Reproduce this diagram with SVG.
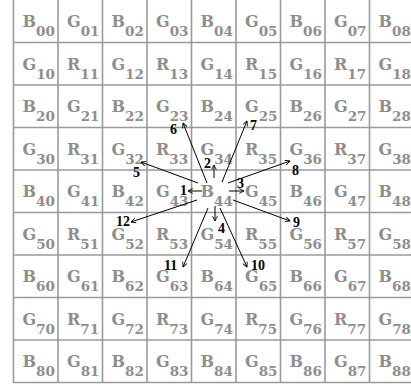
<svg xmlns="http://www.w3.org/2000/svg" width="411" height="388" viewBox="0 0 411 388">
<style>
.grid line{stroke:#9a9a9a;stroke-width:1.6}
.c{font-family:"DejaVu Serif","Liberation Serif",serif;font-weight:bold;font-size:16px;fill:#8e8e8e}
.s{font-size:13.5px}
.n{font-family:"Liberation Serif","DejaVu Serif",serif;font-weight:bold;font-size:14px;fill:#000}
.a line{stroke:#000;stroke-width:1;marker-end:url(#ah)}
</style>
<defs>
<marker id="ah" viewBox="0 0 10 10" refX="9" refY="5" markerWidth="6" markerHeight="6" markerUnits="userSpaceOnUse" orient="auto">
<path d="M1,1 L9,5 L1,9" fill="none" stroke="#000" stroke-width="1.5"/>
</marker>
</defs>
<rect width="411" height="388" fill="#fff"/>
<g class="grid">
<line x1="13.5" y1="0" x2="13.5" y2="383"/>
<line x1="58" y1="0" x2="58" y2="383"/>
<line x1="102.5" y1="0" x2="102.5" y2="383"/>
<line x1="147" y1="0" x2="147" y2="383"/>
<line x1="191.5" y1="0" x2="191.5" y2="383"/>
<line x1="236" y1="0" x2="236" y2="383"/>
<line x1="280.5" y1="0" x2="280.5" y2="383"/>
<line x1="325" y1="0" x2="325" y2="383"/>
<line x1="369.5" y1="0" x2="369.5" y2="383"/>
<line x1="13.5" y1="42.5" x2="411" y2="42.5"/>
<line x1="13.5" y1="85" x2="411" y2="85"/>
<line x1="13.5" y1="127.5" x2="411" y2="127.5"/>
<line x1="13.5" y1="170" x2="411" y2="170"/>
<line x1="13.5" y1="212.5" x2="411" y2="212.5"/>
<line x1="13.5" y1="255" x2="411" y2="255"/>
<line x1="13.5" y1="297.5" x2="411" y2="297.5"/>
<line x1="13.5" y1="340" x2="411" y2="340"/>
<line x1="13.5" y1="382.5" x2="411" y2="382.5"/>
</g>
<g id="cells">
<g id="c00"><text class="c" x="22.5" y="27">B<tspan class="s" dy="9">00</tspan></text></g>
<g id="c01"><text class="c" x="67" y="27">G<tspan class="s" dy="9">01</tspan></text></g>
<g id="c02"><text class="c" x="111.5" y="27">B<tspan class="s" dy="9">02</tspan></text></g>
<g id="c03"><text class="c" x="156" y="27">G<tspan class="s" dy="9">03</tspan></text></g>
<g id="c04"><text class="c" x="200.5" y="27">B<tspan class="s" dy="9">04</tspan></text></g>
<g id="c05"><text class="c" x="245" y="27">G<tspan class="s" dy="9">05</tspan></text></g>
<g id="c06"><text class="c" x="289.5" y="27">B<tspan class="s" dy="9">06</tspan></text></g>
<g id="c07"><text class="c" x="334" y="27">G<tspan class="s" dy="9">07</tspan></text></g>
<g id="c08"><text class="c" x="378.5" y="27">B<tspan class="s" dy="9">08</tspan></text></g>
<g id="c10"><text class="c" x="22.5" y="69.5">G<tspan class="s" dy="9">10</tspan></text></g>
<g id="c11"><text class="c" x="67" y="69.5">R<tspan class="s" dy="9">11</tspan></text></g>
<g id="c12"><text class="c" x="111.5" y="69.5">G<tspan class="s" dy="9">12</tspan></text></g>
<g id="c13"><text class="c" x="156" y="69.5">R<tspan class="s" dy="9">13</tspan></text></g>
<g id="c14"><text class="c" x="200.5" y="69.5">G<tspan class="s" dy="9">14</tspan></text></g>
<g id="c15"><text class="c" x="245" y="69.5">R<tspan class="s" dy="9">15</tspan></text></g>
<g id="c16"><text class="c" x="289.5" y="69.5">G<tspan class="s" dy="9">16</tspan></text></g>
<g id="c17"><text class="c" x="334" y="69.5">R<tspan class="s" dy="9">17</tspan></text></g>
<g id="c18"><text class="c" x="378.5" y="69.5">G<tspan class="s" dy="9">18</tspan></text></g>
<g id="c20"><text class="c" x="22.5" y="112">B<tspan class="s" dy="9">20</tspan></text></g>
<g id="c21"><text class="c" x="67" y="112">G<tspan class="s" dy="9">21</tspan></text></g>
<g id="c22"><text class="c" x="111.5" y="112">B<tspan class="s" dy="9">22</tspan></text></g>
<g id="c23"><text class="c" x="156" y="112">G<tspan class="s" dy="9">23</tspan></text></g>
<g id="c24"><text class="c" x="200.5" y="112">B<tspan class="s" dy="9">24</tspan></text></g>
<g id="c25"><text class="c" x="245" y="112">G<tspan class="s" dy="9">25</tspan></text></g>
<g id="c26"><text class="c" x="289.5" y="112">B<tspan class="s" dy="9">26</tspan></text></g>
<g id="c27"><text class="c" x="334" y="112">G<tspan class="s" dy="9">27</tspan></text></g>
<g id="c28"><text class="c" x="378.5" y="112">B<tspan class="s" dy="9">28</tspan></text></g>
<g id="c30"><text class="c" x="22.5" y="154.5">G<tspan class="s" dy="9">30</tspan></text></g>
<g id="c31"><text class="c" x="67" y="154.5">R<tspan class="s" dy="9">31</tspan></text></g>
<g id="c32"><text class="c" x="111.5" y="154.5">G<tspan class="s" dy="9">32</tspan></text></g>
<g id="c33"><text class="c" x="156" y="154.5">R<tspan class="s" dy="9">33</tspan></text></g>
<g id="c34"><text class="c" x="200.5" y="154.5">G<tspan class="s" dy="9">34</tspan></text></g>
<g id="c35"><text class="c" x="245" y="154.5">R<tspan class="s" dy="9">35</tspan></text></g>
<g id="c36"><text class="c" x="289.5" y="154.5">G<tspan class="s" dy="9">36</tspan></text></g>
<g id="c37"><text class="c" x="334" y="154.5">R<tspan class="s" dy="9">37</tspan></text></g>
<g id="c38"><text class="c" x="378.5" y="154.5">G<tspan class="s" dy="9">38</tspan></text></g>
<g id="c40"><text class="c" x="22.5" y="197">B<tspan class="s" dy="9">40</tspan></text></g>
<g id="c41"><text class="c" x="67" y="197">G<tspan class="s" dy="9">41</tspan></text></g>
<g id="c42"><text class="c" x="111.5" y="197">B<tspan class="s" dy="9">42</tspan></text></g>
<g id="c43"><text class="c" x="156" y="197">G<tspan class="s" dy="9">43</tspan></text></g>
<g id="c44"><text class="c" x="200.5" y="197">B<tspan class="s" dy="9">44</tspan></text></g>
<g id="c45"><text class="c" x="245" y="197">G<tspan class="s" dy="9">45</tspan></text></g>
<g id="c46"><text class="c" x="289.5" y="197">B<tspan class="s" dy="9">46</tspan></text></g>
<g id="c47"><text class="c" x="334" y="197">G<tspan class="s" dy="9">47</tspan></text></g>
<g id="c48"><text class="c" x="378.5" y="197">B<tspan class="s" dy="9">48</tspan></text></g>
<g id="c50"><text class="c" x="22.5" y="239.5">G<tspan class="s" dy="9">50</tspan></text></g>
<g id="c51"><text class="c" x="67" y="239.5">R<tspan class="s" dy="9">51</tspan></text></g>
<g id="c52"><text class="c" x="111.5" y="239.5">G<tspan class="s" dy="9">52</tspan></text></g>
<g id="c53"><text class="c" x="156" y="239.5">R<tspan class="s" dy="9">53</tspan></text></g>
<g id="c54"><text class="c" x="200.5" y="239.5">G<tspan class="s" dy="9">54</tspan></text></g>
<g id="c55"><text class="c" x="245" y="239.5">R<tspan class="s" dy="9">55</tspan></text></g>
<g id="c56"><text class="c" x="289.5" y="239.5">G<tspan class="s" dy="9">56</tspan></text></g>
<g id="c57"><text class="c" x="334" y="239.5">R<tspan class="s" dy="9">57</tspan></text></g>
<g id="c58"><text class="c" x="378.5" y="239.5">G<tspan class="s" dy="9">58</tspan></text></g>
<g id="c60"><text class="c" x="22.5" y="282">B<tspan class="s" dy="9">60</tspan></text></g>
<g id="c61"><text class="c" x="67" y="282">G<tspan class="s" dy="9">61</tspan></text></g>
<g id="c62"><text class="c" x="111.5" y="282">B<tspan class="s" dy="9">62</tspan></text></g>
<g id="c63"><text class="c" x="156" y="282">G<tspan class="s" dy="9">63</tspan></text></g>
<g id="c64"><text class="c" x="200.5" y="282">B<tspan class="s" dy="9">64</tspan></text></g>
<g id="c65"><text class="c" x="245" y="282">G<tspan class="s" dy="9">65</tspan></text></g>
<g id="c66"><text class="c" x="289.5" y="282">B<tspan class="s" dy="9">66</tspan></text></g>
<g id="c67"><text class="c" x="334" y="282">G<tspan class="s" dy="9">67</tspan></text></g>
<g id="c68"><text class="c" x="378.5" y="282">B<tspan class="s" dy="9">68</tspan></text></g>
<g id="c70"><text class="c" x="22.5" y="324.5">G<tspan class="s" dy="9">70</tspan></text></g>
<g id="c71"><text class="c" x="67" y="324.5">R<tspan class="s" dy="9">71</tspan></text></g>
<g id="c72"><text class="c" x="111.5" y="324.5">G<tspan class="s" dy="9">72</tspan></text></g>
<g id="c73"><text class="c" x="156" y="324.5">R<tspan class="s" dy="9">73</tspan></text></g>
<g id="c74"><text class="c" x="200.5" y="324.5">G<tspan class="s" dy="9">74</tspan></text></g>
<g id="c75"><text class="c" x="245" y="324.5">R<tspan class="s" dy="9">75</tspan></text></g>
<g id="c76"><text class="c" x="289.5" y="324.5">G<tspan class="s" dy="9">76</tspan></text></g>
<g id="c77"><text class="c" x="334" y="324.5">R<tspan class="s" dy="9">77</tspan></text></g>
<g id="c78"><text class="c" x="378.5" y="324.5">G<tspan class="s" dy="9">78</tspan></text></g>
<g id="c80"><text class="c" x="22.5" y="367">B<tspan class="s" dy="9">80</tspan></text></g>
<g id="c81"><text class="c" x="67" y="367">G<tspan class="s" dy="9">81</tspan></text></g>
<g id="c82"><text class="c" x="111.5" y="367">B<tspan class="s" dy="9">82</tspan></text></g>
<g id="c83"><text class="c" x="156" y="367">G<tspan class="s" dy="9">83</tspan></text></g>
<g id="c84"><text class="c" x="200.5" y="367">B<tspan class="s" dy="9">84</tspan></text></g>
<g id="c85"><text class="c" x="245" y="367">G<tspan class="s" dy="9">85</tspan></text></g>
<g id="c86"><text class="c" x="289.5" y="367">B<tspan class="s" dy="9">86</tspan></text></g>
<g id="c87"><text class="c" x="334" y="367">G<tspan class="s" dy="9">87</tspan></text></g>
<g id="c88"><text class="c" x="378.5" y="367">B<tspan class="s" dy="9">88</tspan></text></g>
</g>
<g id="connectors" class="a">
<line x1="202" y1="191" x2="188" y2="191"/>
<line x1="214" y1="178" x2="214" y2="165"/>
<line x1="229" y1="191" x2="244" y2="191"/>
<line x1="215" y1="206" x2="215" y2="221"/>
<line x1="198" y1="183" x2="141" y2="162"/>
<line x1="207" y1="183" x2="183" y2="123"/>
<line x1="222" y1="182" x2="247" y2="121"/>
<line x1="228" y1="183" x2="290" y2="161"/>
<line x1="233" y1="200" x2="290" y2="221"/>
<line x1="220" y1="208" x2="247" y2="267"/>
<line x1="208" y1="208" x2="183" y2="267"/>
<line x1="197" y1="200" x2="131" y2="222"/>
</g>
<g id="labels">
<text class="n" x="180" y="195">1</text>
<text class="n" x="204" y="168">2</text>
<text class="n" x="237" y="188">3</text>
<text class="n" x="218" y="233">4</text>
<text class="n" x="133" y="177">5</text>
<text class="n" x="170" y="134">6</text>
<text class="n" x="250" y="130">7</text>
<text class="n" x="292" y="175">8</text>
<text class="n" x="293" y="227">9</text>
<text class="n" x="251" y="270">10</text>
<text class="n" x="164" y="270">11</text>
<text class="n" x="116" y="226">12</text>
</g>
</svg>
